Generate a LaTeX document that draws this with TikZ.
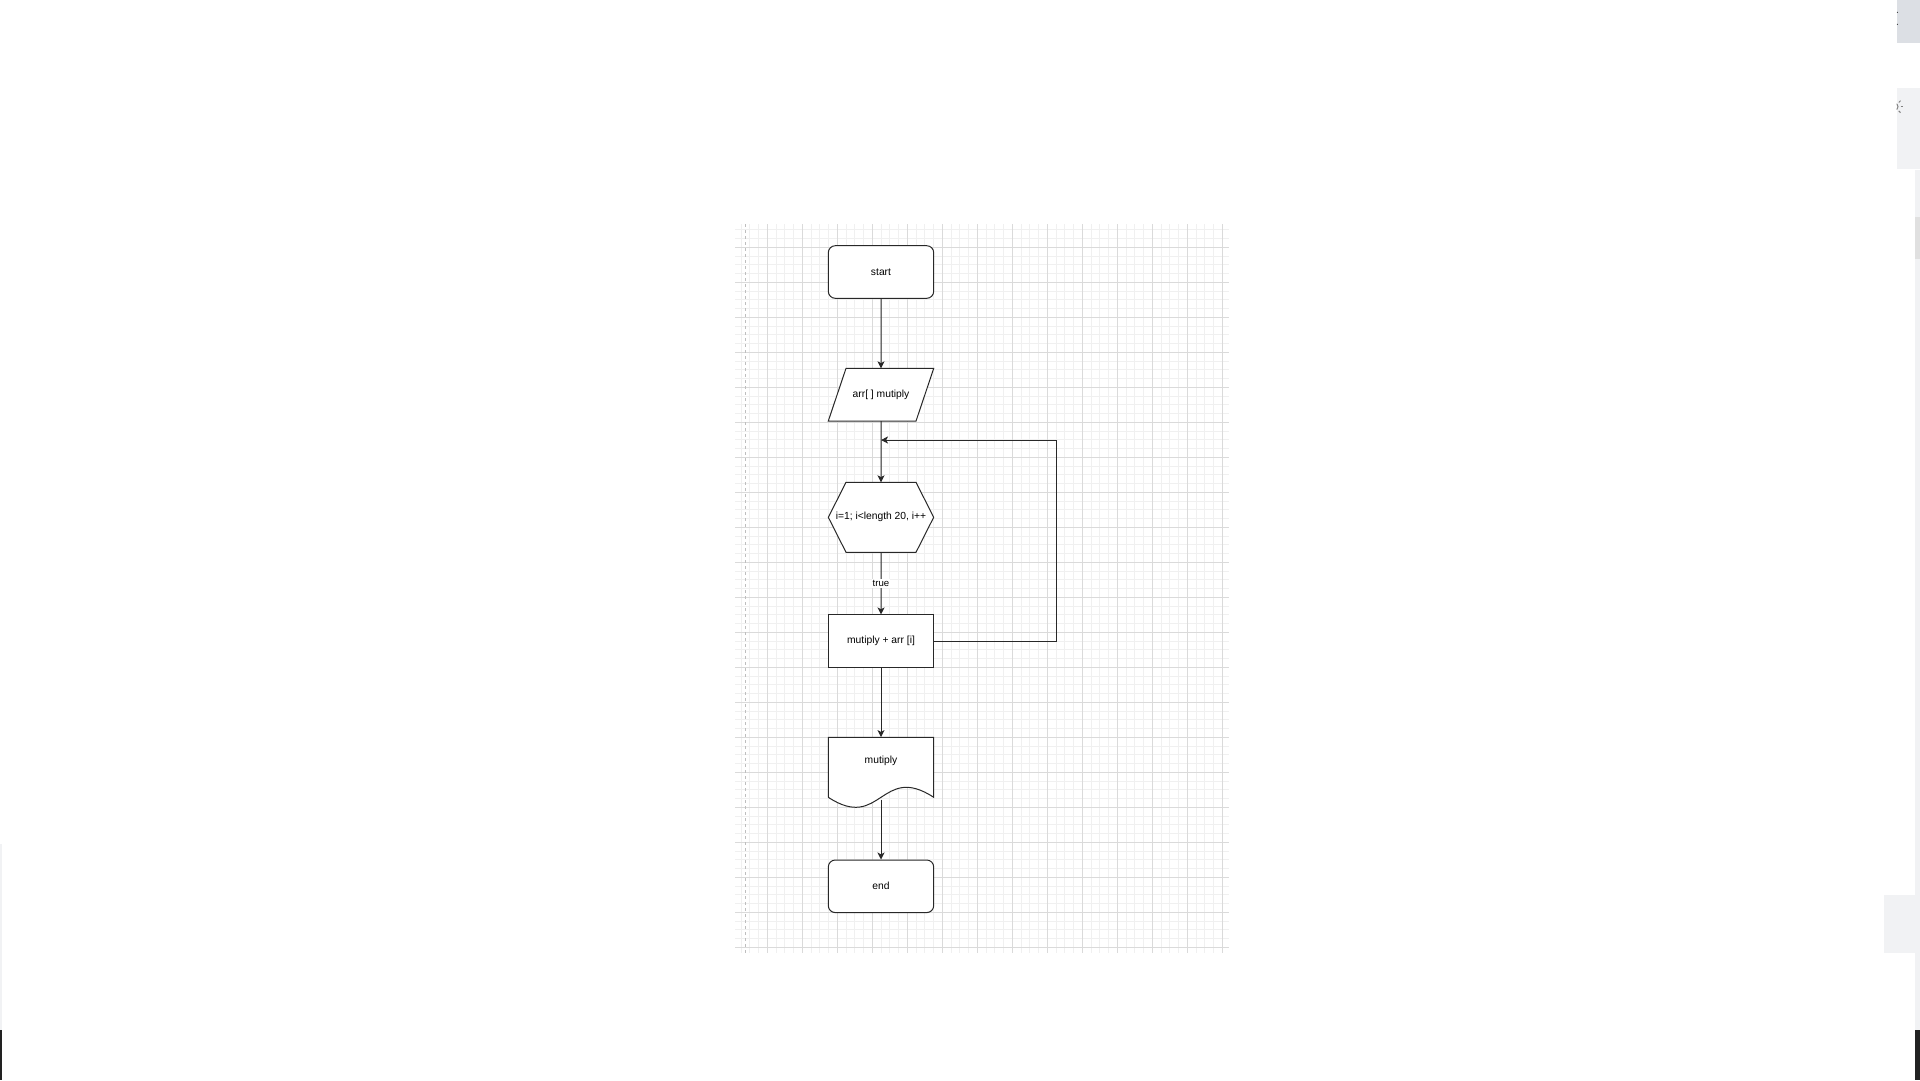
\documentclass[tikz,border=0pt]{standalone}
\usepackage{fontspec}
\setmainfont{Liberation Sans}
\usetikzlibrary{positioning, shapes.geometric, shapes.symbols, arrows.meta}
\definecolor{gridmaj}{RGB}{218,218,218}
\definecolor{gridmin}{RGB}{240,240,240}
\definecolor{pagedash}{RGB}{190,190,190}
\definecolor{strokec}{RGB}{40,40,40}
\definecolor{uidark}{RGB}{220,223,228}
\definecolor{uilight}{RGB}{241,242,244}
\definecolor{uithumb}{RGB}{224,224,224}
\definecolor{uiblack}{RGB}{34,34,34}

\begin{document}
\begin{tikzpicture}[x=1pt, y=-1pt, font=\fontsize{10.3}{12}\selectfont,
  terminal/.style={draw=strokec, line width=1pt, fill=white, rounded corners=7pt, minimum width=105.4pt, minimum height=52.6pt, inner sep=0pt},
  procbox/.style={draw=strokec, line width=1pt, fill=white, minimum width=105.4pt, minimum height=52.7pt, inner sep=0pt},
  inout/.style={trapezium, draw=strokec, line width=1pt, fill=white, trapezium left angle=71.4, trapezium right angle=108.6, text height=7.5pt, text depth=2.5pt, inner xsep=0pt, inner ysep=21.35pt, outer sep=0pt},
  loophex/.style={signal, signal to=west and east, signal pointer angle=126.4, draw=strokec, line width=1pt, fill=white, text height=7.5pt, text depth=2.5pt, inner xsep=0pt, inner ysep=30pt, outer sep=0pt},
  docbox/.style={minimum width=105.4pt, minimum height=48pt, inner sep=0pt},
  docshape/.style={draw=strokec, line width=1pt, fill=white},
  flow/.style={draw=strokec, line width=1pt, -{Stealth[length=7pt, width=7pt, inset=1.8pt]}},
  truelbl/.style={fill=white, inner sep=1pt, font=\fontsize{9.6}{11}\selectfont},
  gridminor/.style={draw=gridmin, line width=0.8pt},
  gridmajor/.style={draw=gridmaj, line width=0.8pt}]
\useasboundingbox (0,0) rectangle (1920,1080);
\fill[white] (0,0) rectangle (1920,1080);

\foreach \gx in {741.05,749.8,...,1229} \draw[gridminor] (\gx,224) -- (\gx,953);
\foreach \gy in {229.8,238.55,...,953} \draw[gridminor] (735,\gy) -- (1229,\gy);
\foreach \gx in {767.3,802.3,...,1229} \draw[gridmajor] (\gx,224) -- (\gx,953);
\foreach \gy in {247.3,282.3,...,953} \draw[gridmajor] (735,\gy) -- (1229,\gy);
\draw[pagedash, line width=1pt, dash pattern=on 3pt off 3pt] (745,224) -- (745,953);

\draw[docshape] (828.3,797.3) -- (828.3,737.3) -- (933.7,737.3) -- (933.7,797.3) .. controls (881,762.7) and (881,831.9) .. (828.3,797.3);

\node[terminal] (start) at (881,272) {start};
\node[inout] (input) at (881,394.7) {\makebox[70pt]{arr[ ] mutiply}};
\node[loophex] (loop) at (881,517.3) {\makebox[70pt]{i=1; i<length 20, i++}};
\node[procbox] (calc) at (881,641.3) {mutiply + arr [i]};
\node[docbox] (outp) at (881,761.3) {mutiply};
\node[terminal] (end) at (881,886.3) {end};
\coordinate (merge) at (881,440);
\coordinate (outpbot) at (881,800);

\draw[flow] (start) -- (input);
\draw[flow] (input) -- (loop);
\draw[flow] (loop) -- node[truelbl] {true} (calc);
\draw[flow] (calc) -- (outp.north);
\draw[flow] (outpbot) -- (end);
\draw[flow] (calc.east) -- ++(122.6,0) |- (merge);

\fill[uidark] (1896.7,0) rectangle (1920,42.7);
\fill[strokec] (1897.4,12.3) circle (0.6);
\fill[strokec] (1897.4,24.3) circle (0.6);
\fill[uilight] (1896.7,88.3) rectangle (1920,169);
\begin{scope}
\clip (1896.7,88.3) rectangle (1920,169);
\draw[gray, line width=1pt] (1894.5,106.7) circle (3.5);
\foreach \ang in {0,45,...,315} \draw[gray, line width=1pt] (1894.5,106.7) ++(\ang:6) -- ++(\ang:2.5);
\end{scope}
\fill[uilight] (1915,170) rectangle (1920,1030);
\fill[uithumb] (1915,217.3) rectangle (1920,259.3);
\fill[uilight] (1884,895) rectangle (1915,952.7);
\fill[uiblack] (1915,1030) rectangle (1920,1080);
\fill[uilight] (0,844) rectangle (2,1030);
\fill[uiblack] (0,1030) rectangle (2.3,1080);
\end{tikzpicture}
\end{document}
